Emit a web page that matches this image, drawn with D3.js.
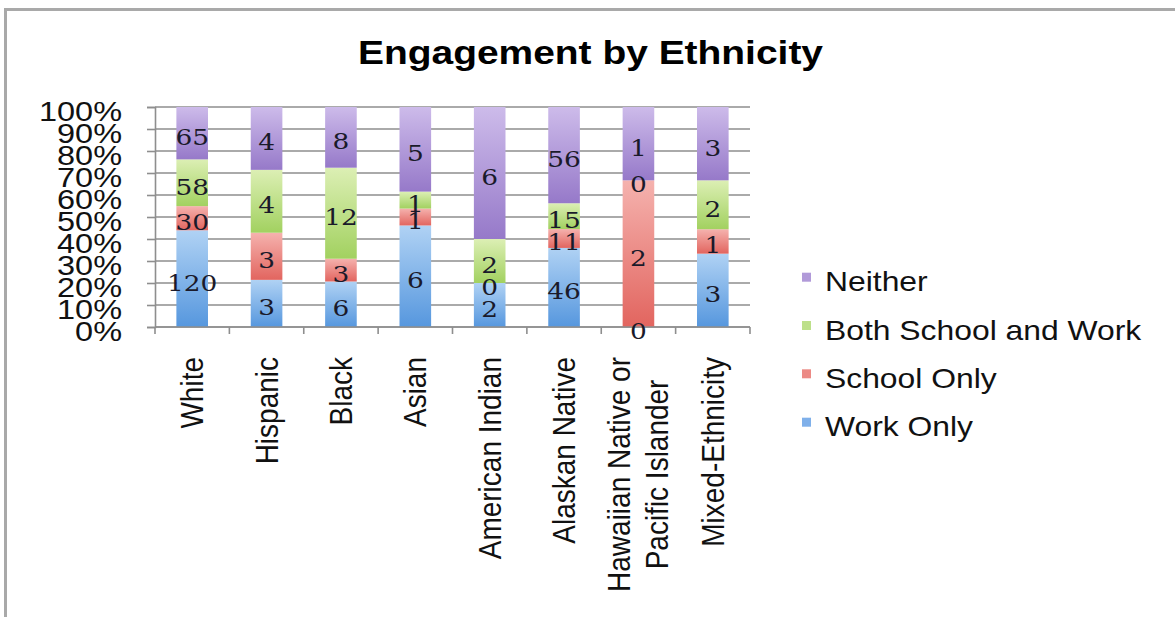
<!DOCTYPE html>
<html>
<head>
<meta charset="utf-8">
<script src="https://cdn.jsdelivr.net/npm/d3@7"></script>
<style>
  html, body { margin: 0; padding: 0; background: #fff; }
  svg { display: block; }
</style>
</head>
<body>
<svg id="chart" width="1175" height="617"></svg>
<script>
// Engagement counts per ethnicity, stacked to 100%
const categories = [
  ["White"],
  ["Hispanic"],
  ["Black"],
  ["Asian"],
  ["American Indian"],
  ["Alaskan Native"],
  ["Hawaiian Native or", "Pacific Islander"],
  ["Mixed-Ethnicity"]
];
const workOnly       = [120, 3, 6, 6, 2, 46, 0, 3];
const schoolOnly     = [30, 3, 3, 1, 0, 11, 2, 1];
const bothSchoolWork = [58, 4, 12, 1, 2, 15, 0, 2];
const neither        = [65, 4, 8, 5, 6, 56, 1, 3];

const seriesNames = ["Work Only", "School Only", "Both School and Work", "Neither"];
const yTicks = [0, 0.1, 0.2, 0.3, 0.4, 0.5, 0.6, 0.7, 0.8, 0.9, 1.0];

// gradient stops (top, bottom) for each series
const seriesColors = [
  ["#b0d2f4", "#5697de"],
  ["#f5b2ae", "#e2655f"],
  ["#dcefb4", "#a2d160"],
  ["#cdbbea", "#9679c9"]
];
const legendColors = ["#7fb0ea", "#ec8a85", "#bde08a", "#b19ad9"];

const svg = d3.select("#chart");
const W = 1175, H = 617;

// frame
svg.append("rect").attr("x", 0).attr("y", 0).attr("width", W).attr("height", H).attr("fill", "#fff");
svg.append("rect")
  .attr("x", 5.5).attr("y", 9.5).attr("width", W + 20).attr("height", H + 20)
  .attr("fill", "#fff").attr("stroke", "#a9a9a9").attr("stroke-width", 3);

// gradients
const defs = svg.append("defs");
seriesColors.forEach((c, i) => {
  const g = defs.append("linearGradient").attr("id", "grad" + i)
    .attr("x1", 0).attr("y1", 0).attr("x2", 0).attr("y2", 1);
  g.append("stop").attr("offset", "0%").attr("stop-color", c[0]);
  g.append("stop").attr("offset", "100%").attr("stop-color", c[1]);
});

// stretched text helper
function stext(parent, x, y, sx, str) {
  return parent.append("g").attr("transform", `translate(${x},${y}) scale(${sx},1)`)
    .append("text").text(str);
}

// title
stext(svg, 590.5, 64, 1.18, "Engagement by Ethnicity")
  .attr("text-anchor", "middle")
  .attr("font-family", "'Liberation Sans', Arial, sans-serif")
  .attr("font-weight", "bold").attr("font-size", 33).attr("fill", "#000");

// plot geometry
const plot = { left: 155, right: 750, top: 107, bottom: 327 };

const x = d3.scaleBand()
  .domain(d3.range(categories.length))
  .range([plot.left, plot.right])
  .paddingInner(0.575).paddingOuter(0.2875);

const y = d3.scaleLinear().domain([0, 1]).range([plot.bottom, plot.top]);

// gridlines
svg.append("g").selectAll("line").data(yTicks).join("line")
  .attr("x1", plot.left).attr("x2", plot.right)
  .attr("y1", d => y(d)).attr("y2", d => y(d))
  .attr("stroke", "#8e8e8e").attr("stroke-width", 1.6);

// y axis
const yAxis = svg.append("g").attr("transform", `translate(${plot.left},0)`)
  .call(d3.axisLeft(y).tickValues(yTicks).tickSize(8).tickFormat(d3.format(".0%")));
yAxis.select(".domain").attr("stroke", "#8e8e8e").attr("stroke-width", 1.6);
yAxis.selectAll(".tick line").attr("stroke", "#8e8e8e").attr("stroke-width", 1.6);
yAxis.selectAll(".tick text")
  .attr("x", null).attr("dy", null)
  .attr("transform", "translate(-33,13) scale(1.16,1)")
  .attr("text-anchor", "end")
  .attr("font-family", "'Liberation Sans', Arial, sans-serif")
  .attr("font-size", 28).attr("fill", "#111");

// stacked data
const rows = categories.map((c, i) => ({
  idx: i,
  "Work Only": workOnly[i],
  "School Only": schoolOnly[i],
  "Both School and Work": bothSchoolWork[i],
  "Neither": neither[i]
}));
const stack = d3.stack().keys(seriesNames).offset(d3.stackOffsetExpand);
const stacked = stack(rows);

const layers = svg.append("g").selectAll("g").data(stacked).join("g")
  .attr("fill", (d, i) => `url(#grad${i})`);
layers.selectAll("rect").data(d => d).join("rect")
  .attr("x", d => x(d.data.idx))
  .attr("width", x.bandwidth())
  .attr("y", d => y(d[1]))
  .attr("height", d => Math.max(0, y(d[0]) - y(d[1])));

// x axis line and boundary ticks
const step = x.step();
svg.append("line")
  .attr("x1", plot.left).attr("x2", plot.right)
  .attr("y1", plot.bottom).attr("y2", plot.bottom)
  .attr("stroke", "#8e8e8e").attr("stroke-width", 1.6);
svg.append("g").selectAll("line").data(d3.range(categories.length + 1)).join("line")
  .attr("x1", i => plot.left + i * step).attr("x2", i => plot.left + i * step)
  .attr("y1", plot.bottom).attr("y2", plot.bottom + 7)
  .attr("stroke", "#8e8e8e").attr("stroke-width", 1.6);

// value labels
const labelG = svg.append("g");
stacked.forEach(layer => {
  layer.forEach(d => {
    const v = d.data[layer.key];
    const cx = x(d.data.idx) + x.bandwidth() / 2;
    const cy = (y(d[0]) + y(d[1])) / 2 + 12;
    stext(labelG, cx, cy, 1.2, String(v))
      .attr("text-anchor", "middle")
      .attr("font-family", "'DejaVu Serif', serif")
      .attr("font-size", 22).attr("fill", "#1a1a2a");
  });
});

// category labels (rotated)
const catTop = 357;
categories.forEach((lines, i) => {
  const cx = x(i) + x.bandwidth() / 2;
  const g = svg.append("g")
    .attr("transform", `translate(${cx},${catTop}) scale(1.1,1) rotate(-90)`);
  const n = lines.length;
  const texts = lines.map((ln, j) => g.append("text")
    .text(ln)
    .attr("y", 10 + (j - (n - 1) / 2) * 34.5)
    .attr("font-family", "'Liberation Sans', Arial, sans-serif")
    .attr("font-size", 28).attr("fill", "#111"));
  if (n === 1) {
    texts[0].attr("text-anchor", "end").attr("x", 0);
  } else {
    const maxLen = d3.max(texts, t => t.node().getComputedTextLength());
    texts.forEach(t => t.attr("text-anchor", "middle").attr("x", -maxLen / 2));
  }
});

// legend
const legendOrder = [3, 2, 1, 0];
const legendCenters = [281.7, 330, 378.3, 426.7];
legendOrder.forEach((si, k) => {
  const cy = legendCenters[k];
  svg.append("rect")
    .attr("x", 802).attr("y", cy - 9).attr("width", 9).attr("height", 9)
    .attr("fill", legendColors[si]);
  stext(svg, 825, cy + 9.5, 1.18, seriesNames[si])
    .attr("font-family", "'Liberation Sans', Arial, sans-serif")
    .attr("font-size", 27).attr("fill", "#111");
});
</script>
</body>
</html>
